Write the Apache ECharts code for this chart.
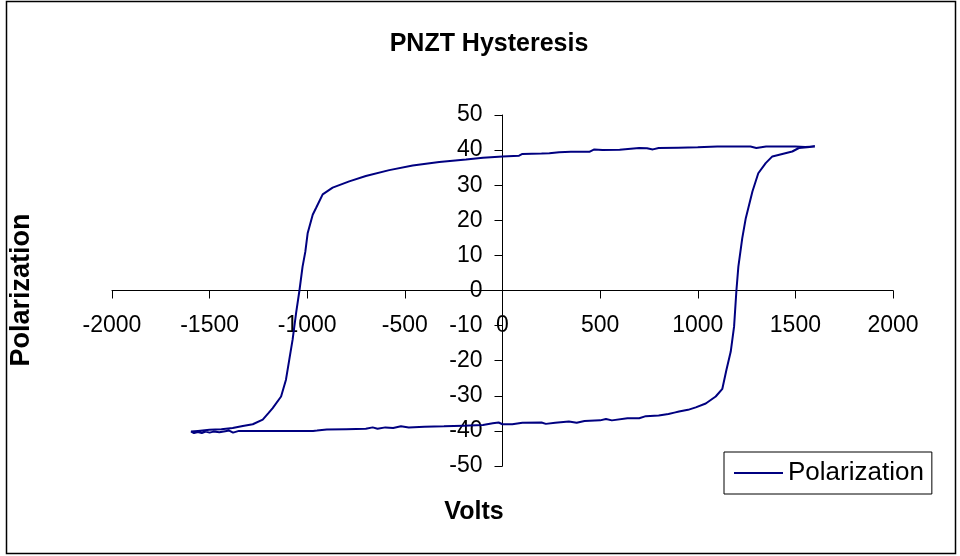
<!DOCTYPE html>
<html>
<head>
<meta charset="utf-8">
<script src="https://cdn.jsdelivr.net/npm/echarts@6/dist/echarts.min.js"></script>
<style>
  html, body { margin: 0; padding: 0; background: #fff; }
  #chart { width: 960px; height: 556px; }
</style>
</head>
<body>
<div id="chart"></div>
<script>
// upper branch: sweep from +1600 V down to -1600 V
const upperVolts = [1600, 1550, 1500, 1450, 1400, 1350, 1300, 1270, 1200, 1100, 1000, 900, 800, 770, 740, 700, 600, 512, 470, 445, 350, 290, 240, 200, 102, 85, 0, -100, -187, -324, -460, -580, -700, -785, -870, -921, -955, -972, -998, -1010, -1024, -1040, -1057, -1075, -1092, -1109, -1134, -1177, -1200, -1228, -1279, -1330, -1382, -1440, -1501, -1560, -1595]
const upperPol = [41.0, 40.9, 41.0, 41.0, 41.0, 41.0, 40.6, 41.0, 41.0, 41.0, 40.8, 40.7, 40.6, 40.2, 40.5, 40.6, 40.1, 40.0, 40.2, 39.5, 39.5, 39.4, 39.1, 39.0, 38.9, 38.4, 38.2, 37.8, 37.3, 36.6, 35.6, 34.3, 32.6, 31.1, 29.3, 27.4, 23.5, 21.6, 16.3, 11.0, 6.8, 0, -6.4, -14.0, -19.7, -25.4, -30.2, -33.5, -35.0, -36.8, -38.1, -38.6, -39.2, -39.5, -39.7, -40.0, -40.2]

// lower branch: sweep back from -1600 V up to +1600 V
const lowerVolts = [-1600, -1580, -1560, -1540, -1520, -1500, -1480, -1450, -1420, -1400, -1380, -1350, -1300, -1200, -1100, -1000, -990, -970, -950, -900, -800, -700, -665, -640, -600, -560, -520, -480, -400, -300, -200, -100, -50, -20, 0, 50, 102, 200, 222, 270, 340, 380, 420, 500, 530, 560, 640, 700, 734, 800, 850, 880, 904, 950, 990, 1041, 1092, 1126, 1147, 1169, 1186, 1198, 1208, 1228, 1246, 1280, 1310, 1348, 1382, 1433, 1484, 1518, 1560, 1600]
const lowerPol = [-40.1, -40.6, -40.3, -40.6, -40.2, -40.5, -40.2, -40.4, -40.1, -39.9, -40.5, -40.0, -40.0, -40.0, -40.0, -40.0, -39.7, -40.0, -39.9, -39.6, -39.5, -39.4, -39.0, -39.4, -39.0, -39.2, -38.7, -39.0, -38.8, -38.7, -38.5, -38.3, -37.8, -37.6, -38.1, -38.1, -37.7, -37.6, -38.0, -37.7, -37.3, -37.7, -37.2, -37.0, -36.6, -37.0, -36.4, -36.4, -35.8, -35.6, -35.2, -34.8, -34.5, -34.0, -33.3, -32.2, -30.2, -28.0, -22.6, -17.4, -10.3, 0, 6.8, 14.9, 20.6, 28.2, 33.4, 36.3, 38.2, 38.9, 39.6, 40.6, 40.8, 41.0]

const xMin = -2000, xMax = 2000, xStep = 500
const yMin = -50, yMax = 50, yStep = 10

const volts = upperVolts.concat(lowerVolts)
const polarization = upperPol.concat(lowerPol)
const loop = volts.map((v, i) => [v, polarization[i]])

const FONT = '"Liberation Sans", Arial, sans-serif'
const GRID = { left: 112, right: 67, top: 115, bottom: 90 }
const W = 960, H = 556
const plotW = W - GRID.left - GRID.right
const plotH = H - GRID.top - GRID.bottom

const chart = echarts.init(document.getElementById('chart'), null, { renderer: 'canvas' })

const option = {
  animation: false,
  backgroundColor: '#fff',
  grid: GRID,
  legend: {
    left: 724,
    top: 452,
    orient: 'vertical',
    padding: [8, 8, 8, 10],
    itemWidth: 49,
    itemHeight: 2,
    itemGap: 0,
    borderColor: '#000',
    borderWidth: 1,
    backgroundColor: '#fff',
    borderRadius: 0,
    textStyle: {
      fontFamily: FONT,
      fontSize: 26,
      color: '#000',
      padding: [2, 0, 0, 0]
    },
    data: [{ name: 'Polarization', icon: 'rect' }]
  },
  xAxis: {
    type: 'value',
    min: xMin,
    max: xMax,
    interval: xStep,
    position: 'bottom',
    // move the whole axis (line, ticks, labels) up to y = 0
    offset: -plotH / 2,
    axisLine: { onZero: false, lineStyle: { color: '#000', width: 1 } },
    axisTick: { show: true, inside: false, length: 8, lineStyle: { color: '#000' } },
    axisLabel: {
      fontFamily: FONT, fontSize: 23, color: '#000', margin: 24,
      formatter: v => String(v)
    },
    splitLine: { show: false }
  },
  yAxis: {
    type: 'value',
    min: yMin,
    max: yMax,
    interval: yStep,
    position: 'left',
    // move the whole axis right to x = 0
    offset: -plotW / 2,
    axisLine: { show: true, onZero: false, lineStyle: { color: '#000', width: 1 } },
    axisTick: { show: true, inside: false, length: 8, lineStyle: { color: '#000' } },
    axisLabel: {
      fontFamily: FONT, fontSize: 23, color: '#000', margin: 20,
      formatter: v => String(v)
    },
    splitLine: { show: false }
  },
  graphic: [
    {
      type: 'rect',
      shape: { x: 6.5, y: 1.5, width: 949, height: 552 },
      style: { fill: null, stroke: '#000', lineWidth: 1.5 },
      silent: true
    },
    {
      type: 'text',
      x: 489,
      y: 44,
      style: {
        text: 'PNZT Hysteresis',
        font: 'bold 25px ' + FONT,
        fill: '#000',
        textAlign: 'center',
        textVerticalAlign: 'middle'
      }
    },
    {
      type: 'text',
      x: 474,
      y: 512,
      style: {
        text: 'Volts',
        font: 'bold 25px ' + FONT,
        fill: '#000',
        textAlign: 'center',
        textVerticalAlign: 'middle'
      }
    },
    {
      type: 'text',
      x: 22,
      y: 290,
      rotation: Math.PI / 2,
      style: {
        text: 'Polarization',
        font: 'bold 27px ' + FONT,
        fill: '#000',
        textAlign: 'center',
        textVerticalAlign: 'middle'
      }
    }
  ],
  series: [{
    name: 'Polarization',
    type: 'line',
    data: loop,
    symbol: 'none',
    smooth: false,
    lineStyle: { color: '#000080', width: 2 },
    itemStyle: { color: '#000080' }
  }]
}

chart.setOption(option)
</script>
</body>
</html>
